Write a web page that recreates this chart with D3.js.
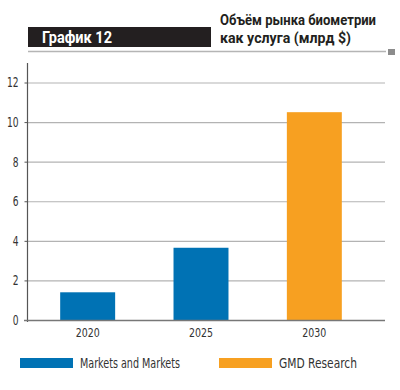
<!DOCTYPE html>
<html><head><meta charset="utf-8">
<script src="https://cdn.jsdelivr.net/npm/d3@7"></script>
<style>body{margin:0;background:#fff}</style>
</head><body>
<svg id="c" width="400" height="390"></svg>
<script>
const categories = ["2020", "2025", "2030"];
const values = [1.4, 3.65, 10.5];
const sources = ["Markets and Markets", "Markets and Markets", "GMD Research"];
const legendLabels = ["Markets and Markets", "GMD Research"];
const yTicks = [0, 2, 4, 6, 8, 10, 12];
const colors = {"Markets and Markets": "#0072b4", "GMD Research": "#f7a021"};

const svg = d3.select("#c");
const cond = "'DejaVu Sans Condensed','Roboto',sans-serif";

// header
svg.append("rect").attr("x", 28).attr("y", 27).attr("width", 183).attr("height", 20).attr("fill", "#231f20");
svg.append("text").attr("x", 42).attr("y", 43).attr("fill", "#fff")
  .style("font-family", "Roboto, sans-serif").style("font-weight", "bold").style("font-size", "16px")
  .attr("textLength", 70).attr("lengthAdjust", "spacingAndGlyphs").text("График 12");
svg.append("line").attr("x1", 28).attr("x2", 386).attr("y1", 51.5).attr("y2", 51.5)
  .attr("stroke", "#b5b5b5").attr("stroke-width", 1.5);
svg.append("rect").attr("x", 388).attr("y", 49).attr("width", 7).attr("height", 6).attr("fill", "#8c8c8c");
const t1 = svg.append("text").attr("fill", "#231f20")
  .style("font-family", "Roboto, sans-serif").style("font-weight", "bold").style("font-size", "14.5px");
t1.append("tspan").attr("x", 220).attr("y", 25).attr("textLength", 156).attr("lengthAdjust", "spacingAndGlyphs").text("Объём рынка биометрии");
t1.append("tspan").attr("x", 220).attr("y", 43).attr("textLength", 131).attr("lengthAdjust", "spacingAndGlyphs").text("как услуга (млрд $)");

// scales
const y = d3.scaleLinear().domain([0, 12]).range([320, 82.5]);
const x = d3.scaleBand().domain(categories).range([31, 371]).paddingInner(0.515).paddingOuter(0.2575);

// gridlines
svg.append("g").selectAll("line").data(yTicks.filter(d => d > 0)).join("line")
  .attr("x1", 27).attr("x2", 385).attr("y1", d => y(d) + 0.5).attr("y2", d => y(d) + 0.5)
  .attr("stroke", "#b3b3b3").attr("stroke-width", 1.2);

// bars
svg.append("g").selectAll("rect").data(values).join("rect")
  .attr("x", (d, i) => x(categories[i])).attr("width", x.bandwidth())
  .attr("y", d => y(d)).attr("height", d => y(0) - y(d))
  .attr("fill", (d, i) => colors[sources[i]]);

// y axis
const yAxis = d3.axisLeft(y).tickValues(yTicks).tickSize(3).tickPadding(6).tickFormat(d3.format("d"));
const ya = svg.append("g").attr("transform", "translate(27.5,0)").call(yAxis);
ya.select(".domain").remove();
ya.selectAll(".tick line").attr("stroke", "#555");
ya.selectAll("text").style("font-family", cond).style("font-size", "14px").attr("fill", "#333")
  .attr("textLength", d => String(d).length * 5.8).attr("lengthAdjust", "spacingAndGlyphs");
svg.append("line").attr("x1", 27.5).attr("x2", 27.5).attr("y1", 63).attr("y2", 322).attr("stroke", "#555").attr("stroke-width", 1.2);

// x axis
const xa = svg.append("g").attr("transform", "translate(0,320.5)")
  .call(d3.axisBottom(x).tickSize(0).tickPadding(8));
xa.select(".domain").remove();
xa.selectAll("text").style("font-family", cond).style("font-size", "12px").attr("fill", "#333")
  .attr("textLength", 24).attr("lengthAdjust", "spacingAndGlyphs");
svg.append("line").attr("x1", 24).attr("x2", 385).attr("y1", 320.5).attr("y2", 320.5).attr("stroke", "#777").attr("stroke-width", 1.3);

// legend
const legX = [20, 219];
const legW = [100, 78];
const lg = svg.append("g").selectAll("g").data(legendLabels).join("g")
  .attr("transform", (d, i) => `translate(${legX[i]},358)`);
lg.append("rect").attr("width", 53).attr("height", 10).attr("fill", d => colors[d]);
lg.append("text").attr("x", 60).attr("y", 10).attr("fill", "#333")
  .style("font-family", cond).style("font-size", "13.5px")
  .attr("textLength", (d, i) => legW[i]).attr("lengthAdjust", "spacingAndGlyphs").text(d => d);
</script>
</body></html>
